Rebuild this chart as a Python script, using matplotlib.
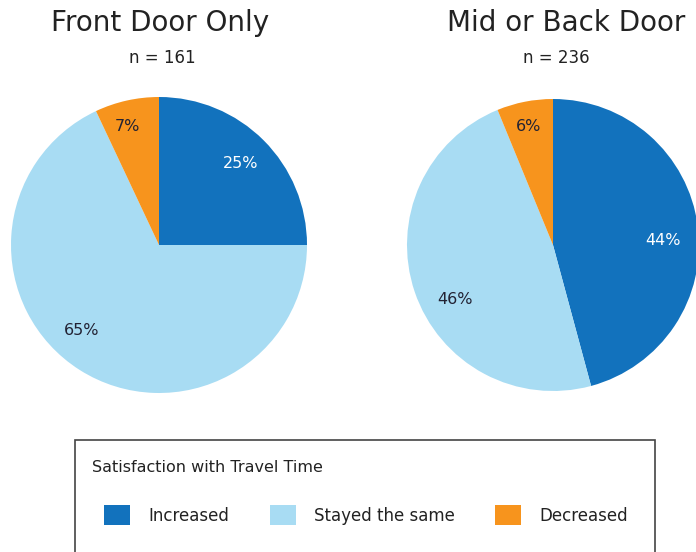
import matplotlib.pyplot as plt
from matplotlib.patches import Rectangle, Patch

plt.rcParams['font.family'] = ['DejaVu Sans']

categories = ['Increased', 'Stayed the same', 'Decreased']
colors = ['#1272bd', '#a8dcf3', '#f7941d']
label_colors = ['white', '#222233', '#222233']

titles = ['Front Door Only', 'Mid or Back Door']
counts = [161, 236]
# printed percentages
front_door_labels = [25, 65, 7]
mid_back_door_labels = [44, 46, 6]
# slice shares as drawn in the picture
front_door_shares = [25, 68, 7]
mid_back_door_shares = [45.8, 48, 6.2]
legend_title = 'Satisfaction with Travel Time'

W, H = 696, 552
fig = plt.figure(figsize=(W / 100, H / 100), dpi=100)
txt = '#222222'


def px_axes(cx, cy, r):
	return fig.add_axes([(cx - r) / W, (H - cy - r) / H, 2 * r / W, 2 * r / H])


def draw_pie(ax, shares, labels):
	wedges, texts, autotexts = ax.pie(
		shares, colors=colors, startangle=90, counterclock=False,
		autopct='%d', pctdistance=0.78, wedgeprops={'linewidth': 0},
		textprops={'fontsize': 11.5})
	for t, c, lab in zip(autotexts, label_colors, labels):
		t.set_color(c)
		t.set_text('%d%%' % lab)
	ax.set_xlim(-1, 1)
	ax.set_ylim(-1, 1)
	ax.set_aspect('equal')
	return autotexts


ax1 = px_axes(159, 245, 148)
at1 = draw_pie(ax1, front_door_shares, front_door_labels)
at1[1].set_position((-0.52, -0.58))
at1[2].set_position((-0.21, 0.8))
ax2 = px_axes(553, 245, 146)
at2 = draw_pie(ax2, mid_back_door_shares, mid_back_door_labels)
at2[0].set_position((0.75, 0.03))
at2[1].set_position((-0.67, -0.37))
at2[2].set_position((-0.17, 0.81))

# titles
fig.text(160 / W, 1 - 31 / H, titles[0], ha='center', va='baseline', fontsize=20, color=txt)
fig.text(162 / W, 1 - 63 / H, 'n = %d' % counts[0], ha='center', va='baseline', fontsize=12, color=txt)
fig.text(566 / W, 1 - 31 / H, titles[1], ha='center', va='baseline', fontsize=20, color=txt)
fig.text(556 / W, 1 - 63 / H, 'n = %d' % counts[1], ha='center', va='baseline', fontsize=12, color=txt)

# legend box
box = Rectangle((75 / W, -0.05), 580 / W, (H - 440) / H + 0.05, transform=fig.transFigure,
	fill=False, edgecolor='#444444', linewidth=1.2)
fig.patches.append(box)
fig.text(92 / W, 1 - 468 / H, legend_title, ha='left', va='center', fontsize=11.5, color=txt)

handles = [Patch(facecolor=c, edgecolor='none') for c in colors]
fig.legend(handles, categories, loc='center left', bbox_to_anchor=(104 / W, 1 - 515 / H),
	ncol=3, frameon=False, fontsize=12, handlelength=1.56, handleheight=1.44,
	handletextpad=1.08, columnspacing=2.45, labelcolor=txt, borderpad=0, borderaxespad=0)

fig.savefig('out.png', dpi=100)
